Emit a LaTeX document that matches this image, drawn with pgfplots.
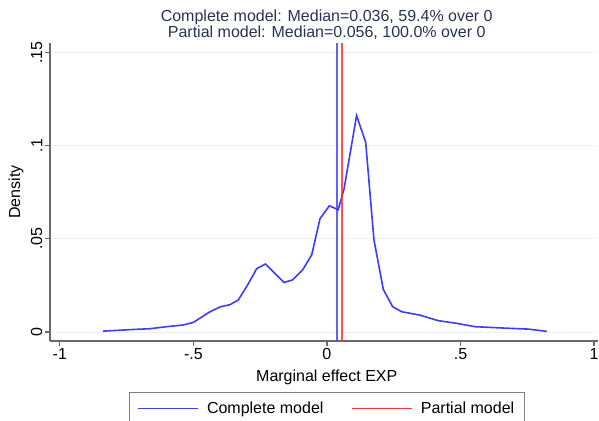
\documentclass[border=0pt]{standalone}
\usepackage{fontspec}
\setmainfont{Liberation Sans}
\usepackage{pgfplots}
\pgfplotsset{compat=1.18}
\definecolor{curveblue}{RGB}{60,60,250}
\definecolor{medred}{RGB}{255,50,50}
\definecolor{titlecol}{RGB}{40,50,85}
\definecolor{gridcol}{RGB}{234,242,243}
\definecolor{spinecol}{RGB}{105,105,105}
\begin{document}
\begin{tikzpicture}
\begin{axis}[
  scale only axis,
  width=411pt, height=223.5pt,
  xmin=-1.037, xmax=1.015,
  ymin=-0.0048, ymax=0.155,
  axis lines=left,
  axis line style={-, spinecol, line width=1.1pt},
  tick align=outside,
  major tick length=3.5pt,
  tick style={spinecol, line width=0.9pt},
  xtick={-1,-0.5,0,0.5,1},
  xticklabels={-1,-.5,0,.5,1},
  ytick={0,0.05,0.1,0.15},
  yticklabels={0,.05,.1,.15},
  yticklabel style={rotate=90, anchor=south, inner sep=2pt},
  xticklabel style={inner sep=2pt},
  ymajorgrids,
  grid style={gridcol, line width=0.8pt},
  font=\fontsize{12}{14}\selectfont,
  xlabel={Marginal effect EXP},
  xlabel style={at={(0.505,-0.121)}, anchor=center},
  ylabel={Density},
  ylabel style={at={(-0.062,0.5)}, anchor=center},
  title={Complete model: Median=0.036, 59.4\% over 0\\Partial model: Median=0.056, 100.0\% over 0},
  title style={at={(0.505,1.034)}, anchor=center, align=center, text=titlecol,
               font=\fontsize{12}{12}\selectfont},
  legend columns=2,
  legend style={at={(0.506,-0.171)}, anchor=north, draw=gray, line width=0.8pt,
                font=\fontsize{12}{14}\selectfont,
                /tikz/every odd column/.append style={column sep=4pt},
                /tikz/every even column/.append style={column sep=19pt},
                inner xsep=6pt, inner ysep=5pt},
  legend image code/.code={\draw[#1, line width=1pt, opacity=1] (0pt,0pt) -- (45pt,0pt);},
]
\addplot[curveblue, line width=1.2pt] coordinates {
(-0.839,0.0005) (-0.725,0.0014) (-0.663,0.0018) (-0.600,0.0029)
(-0.538,0.0038) (-0.500,0.0052) (-0.438,0.0109) (-0.398,0.0136)
(-0.363,0.0147) (-0.332,0.0172) (-0.298,0.0250) (-0.263,0.0340)
(-0.230,0.0365) (-0.195,0.0315) (-0.161,0.0266) (-0.128,0.0280)
(-0.091,0.0333) (-0.057,0.0414) (-0.026,0.0608) (0.009,0.0677)
(0.042,0.0656) (0.064,0.0767) (0.111,0.1161) (0.145,0.1018)
(0.176,0.0495) (0.211,0.0229) (0.246,0.0136) (0.280,0.0109)
(0.348,0.0091) (0.417,0.0061) (0.486,0.0047) (0.554,0.0029)
(0.685,0.0020) (0.754,0.0016) (0.823,0.0004)
};
\addlegendentry{Complete model}
\addplot[medred, opacity=0.85, line width=1.5pt] coordinates {(0.056,-0.0048) (0.056,0.155)};
\addlegendentry{Partial model}
\addplot[curveblue, opacity=0.8, line width=1.5pt, forget plot] coordinates {(0.036,-0.0048) (0.036,0.155)};
\coordinate (bbSW) at (rel axis cs:-0.0912,-0.2651);
\coordinate (bbNE) at (rel axis cs:1.0018,1.1443);
\end{axis}
\pgfresetboundingbox
\path[use as bounding box] (bbSW) rectangle (bbNE);
\end{tikzpicture}
\end{document}
